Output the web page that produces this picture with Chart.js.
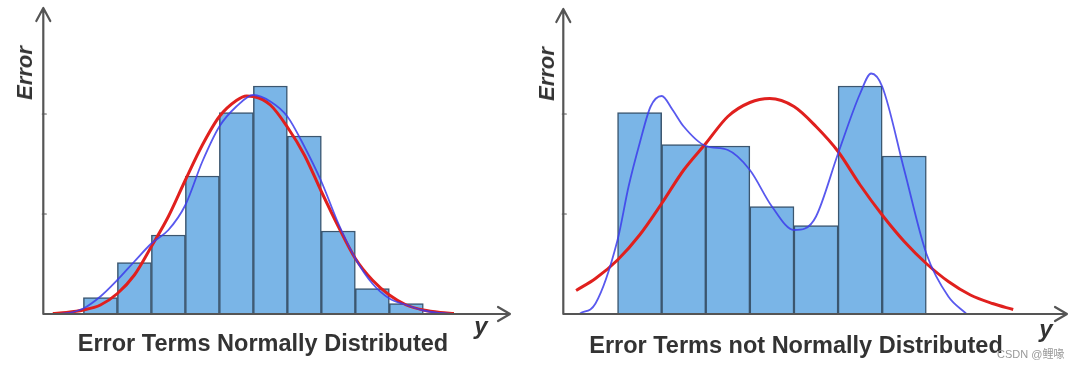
<!DOCTYPE html>
<html>
<head>
<meta charset="utf-8">
<script src="https://cdn.jsdelivr.net/npm/chart.js@4/dist/chart.umd.min.js"></script>
<style>
  body { margin: 0; background: #fff; }
  #wrap { position: relative; width: 1080px; height: 369px; overflow: hidden; font-family: "Liberation Sans", Arial, sans-serif; }
  .pane { position: absolute; top: 0; width: 540px; height: 369px; }
  .lbl { position: absolute; white-space: nowrap; color: #333; }
  .title { font-size: 23.5px; font-weight: bold; transform: translate(-50%, -50%); }
  .ylab { font-size: 22px; font-weight: bold; font-style: italic; transform: translate(-50%, -50%) rotate(-90deg); }
  .xlab { font-size: 24px; font-weight: bold; font-style: italic; transform: translate(-50%, -50%); }
  .mark { font-size: 11px; color: #999; transform: translateY(-50%); font-family: "Liberation Sans", "Noto Sans CJK SC", sans-serif; }
</style>
</head>
<body>
<div id="wrap">
  <div class="pane" style="left:0"><canvas id="left" width="540" height="369"></canvas></div>
  <div class="pane" style="left:540px"><canvas id="right" width="540" height="369"></canvas></div>

  <div class="lbl ylab" style="left:25px;top:73px">Error</div>
  <div class="lbl ylab" style="left:547px;top:74px">Error</div>
  <div class="lbl xlab" style="left:481px;top:326px">y</div>
  <div class="lbl xlab" style="left:1046px;top:329px">y</div>
  <div class="lbl title" style="left:263px;top:343px">Error Terms Normally Distributed</div>
  <div class="lbl title" style="left:796px;top:345px">Error Terms not Normally Distributed</div>
  <div class="lbl mark" style="left:997px;top:353px">CSDN @鲤喙</div>
</div>
<script>
// left panel: roughly normal residuals
const leftBins = [0.5, 1.5, 2.5, 3.5, 4.5, 5.5, 6.5, 7.5, 8.5, 9.5];
const leftCounts = [3.3, 10.3, 15.8, 27.6, 40.3, 45.6, 35.6, 16.6, 5.1, 2.1];
const leftNormalX = [-0.9, -0.5, 0, 0.5, 1, 1.5, 2, 2.5, 3, 3.5, 4, 4.5, 4.8, 5, 5.5, 6, 6.5, 7, 7.5, 8, 8.5, 9, 9.5, 10, 10.5, 10.9];
const leftNormalY = [0.1, 0.3, 0.8, 1.8, 4.1, 7.8, 13.5, 19.5, 26.8, 33.8, 39.5, 42.7, 43.6, 43.5, 41.8, 37.4, 31.8, 24.5, 17.5, 11.1, 6.8, 3.8, 1.8, 0.8, 0.3, 0.1];
const leftKdeX = [-0.7, -0.3, 0, 0.5, 1, 1.5, 2, 2.5, 3, 3.5, 4, 4.5, 5, 5.5, 6, 6.5, 7, 7.5, 8, 8.5, 9, 9.5, 10, 10.5, 10.9];
const leftKdeY = [0, 0.4, 1.1, 3.5, 6.8, 10.5, 14.1, 16.8, 21.8, 30.5, 37.5, 41.5, 43.8, 42.5, 39.5, 33.5, 26.5, 18.1, 11.1, 6.1, 3.1, 1.8, 0.7, 0.2, 0];

// right panel: bimodal residuals
const rightBins = [0.5, 1.5, 2.5, 3.5, 4.5, 5.5, 6.5];
const rightCounts = [40.3, 33.9, 33.6, 21.5, 17.7, 45.6, 31.6];
const rightNormalX = [-0.94, -0.5, 0, 0.5, 1, 1.5, 2, 2.5, 3, 3.45, 4, 4.5, 5, 5.5, 6, 6.5, 7, 7.5, 8, 8.5, 8.97];
const rightNormalY = [4.7, 7.1, 10.8, 15.8, 22.1, 28.8, 34.1, 39.5, 42.3, 43.1, 41.5, 37.5, 32.5, 25.8, 19.8, 14.5, 10.1, 6.5, 3.8, 2.1, 0.9];
const rightKdeX = [-0.85, -0.5, 0, 0.25, 0.5, 0.75, 1, 1.25, 1.5, 2, 2.5, 3, 3.5, 4, 4.25, 4.5, 5, 5.5, 5.75, 6, 6.5, 7, 7.5, 7.9];
const rightKdeY = [0.1, 2.1, 14.8, 25.5, 34.1, 41.5, 43.6, 40.8, 37.5, 33.6, 32.8, 28.8, 21.5, 16.8, 17.1, 19.5, 32.1, 44.1, 48.1, 45.5, 28.8, 12.1, 3.5, 0.1];

const yTicks = [20, 40];

function pts(xs, ys) {
    return xs.map((x, i) => ({ x: x, y: ys[i] }));
}

// axis lines with open arrow heads, drawn over the bars
const arrowAxes = {
    id: 'arrowAxes',
    afterDatasetsDraw(chart) {
        const ctx = chart.ctx;
        const a = chart.chartArea;
        const y = chart.scales.y;
        ctx.save();
        ctx.strokeStyle = '#555';
        ctx.lineWidth = 2.2;
        ctx.lineCap = 'round';
        ctx.lineJoin = 'round';
        ctx.beginPath();
        ctx.moveTo(a.left, a.bottom);
        ctx.lineTo(a.left, a.top);
        ctx.moveTo(a.left - 7, a.top + 13);
        ctx.lineTo(a.left, a.top);
        ctx.lineTo(a.left + 7, a.top + 13);
        ctx.moveTo(a.left, a.bottom);
        ctx.lineTo(a.right, a.bottom);
        ctx.moveTo(a.right - 12, a.bottom - 7);
        ctx.lineTo(a.right, a.bottom);
        ctx.lineTo(a.right - 12, a.bottom + 7);
        ctx.stroke();
        ctx.lineWidth = 1.2;
        ctx.beginPath();
        yTicks.forEach(v => {
            const py = y.getPixelForValue(v);
            ctx.moveTo(a.left - 1, py);
            ctx.lineTo(a.left + 3, py);
        });
        ctx.stroke();
        ctx.restore();
    }
};

function makeChart(id, bins, counts, normal, kde, xr, pad) {
    return new Chart(document.getElementById(id), {
        type: 'bar',
        data: {
            datasets: [
                {
                    type: 'line',
                    data: kde,
                    borderColor: 'rgba(60,60,235,0.85)',
                    borderWidth: 1.8,
                    pointRadius: 0,
                    cubicInterpolationMode: 'monotone',
                    order: 1
                },
                {
                    type: 'line',
                    data: normal,
                    borderColor: '#e0201e',
                    borderWidth: 3,
                    pointRadius: 0,
                    cubicInterpolationMode: 'monotone',
                    order: 2
                },
                {
                    data: pts(bins, counts),
                    backgroundColor: '#7ab5e7',
                    borderColor: '#3b566f',
                    borderWidth: 1.5,
                    barPercentage: 1,
                    categoryPercentage: 1,
                    order: 3
                }
            ]
        },
        options: {
            responsive: false,
            animation: false,
            devicePixelRatio: 1,
            layout: { padding: pad },
            plugins: { legend: { display: false }, tooltip: { enabled: false } },
            scales: {
                x: { type: 'linear', min: xr[0], max: xr[1], offset: false, display: false },
                y: { type: 'linear', min: 0, max: xr[2], display: false }
            }
        },
        plugins: [arrowAxes]
    });
}

makeChart('left', leftBins, leftCounts, pts(leftNormalX, leftNormalY), pts(leftKdeX, leftKdeY),
    [-1.18, 12.55, 61.2], { left: 43.3, right: 30, top: 8, bottom: 55 });
makeChart('right', rightBins, rightCounts, pts(rightNormalX, rightNormalY), pts(rightKdeX, rightKdeY),
    [-1.23, 10.19, 61], { left: 23.3, right: 13, top: 9, bottom: 55 });
</script>
</body>
</html>
